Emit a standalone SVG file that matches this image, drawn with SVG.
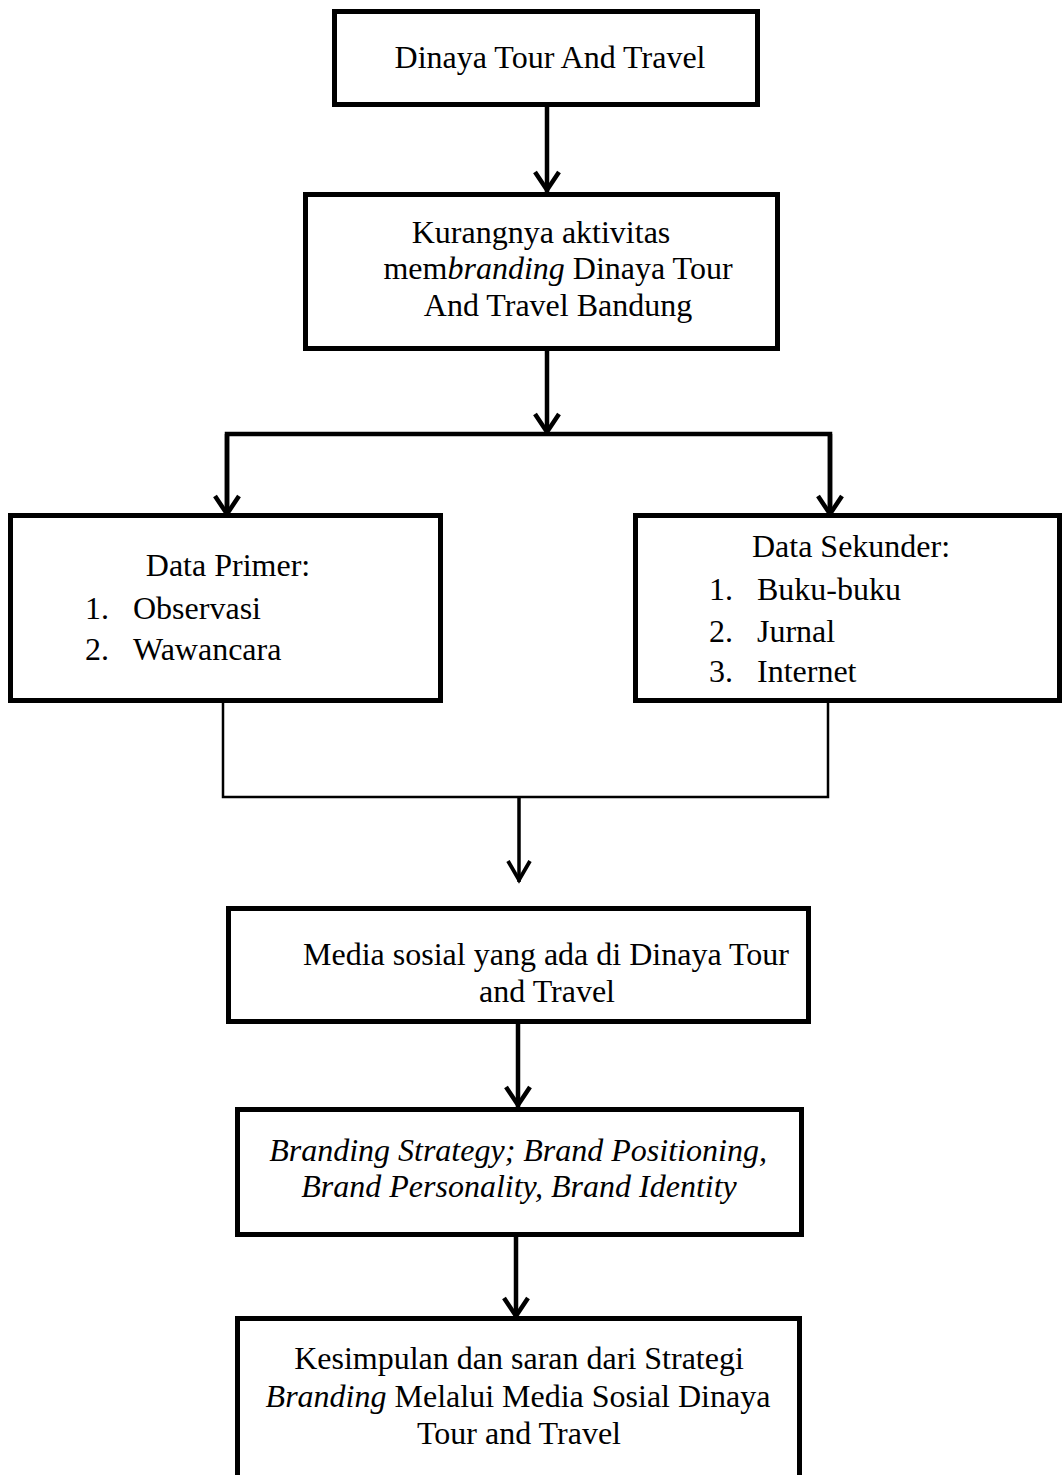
<svg xmlns="http://www.w3.org/2000/svg" width="1062" height="1475" viewBox="0 0 1062 1475">
  <style>
    .box { fill: #ffffff; stroke: #000000; stroke-width: 5; }
    .t { font-family: "Liberation Serif", "Times New Roman", serif; font-size: 32px; fill: #000000; }
    .c { text-anchor: middle; }
    .i { font-style: italic; }
    .conn { fill: none; stroke: #000000; stroke-width: 4.5; }
    .thin { fill: none; stroke: #000000; stroke-width: 2.5; }
  </style>
  <defs>
    <marker id="ah" markerUnits="userSpaceOnUse" markerWidth="40" markerHeight="40" refX="2" refY="0" orient="auto" viewBox="-25 -20 40 40" overflow="visible">
      <path d="M-18,-12 L0,0 L-18,12" fill="none" stroke="#000000" stroke-width="4.5"/>
    </marker>
    <marker id="ah-thin" markerUnits="userSpaceOnUse" markerWidth="40" markerHeight="40" refX="2" refY="0" orient="auto" viewBox="-25 -20 40 40" overflow="visible">
      <path d="M-19,-11 L0,0 L-19,11" fill="none" stroke="#000000" stroke-width="3.8"/>
    </marker>
  </defs>
  <rect width="1062" height="1475" fill="#ffffff"/>

  <g id="connectors">
    <line class="conn" x1="547" y1="107" x2="547" y2="192" marker-end="url(#ah)"/>
    <line class="conn" x1="547" y1="351" x2="547" y2="434" marker-end="url(#ah)"/>
    <polyline class="conn" points="227,516 227,434 830,434 830,516"/>
    <line class="conn" x1="227" y1="434" x2="227" y2="516" marker-end="url(#ah)"/>
    <line class="conn" x1="830" y1="434" x2="830" y2="516" marker-end="url(#ah)"/>
    <polyline class="thin" points="223,703 223,797 828,797 828,703"/>
    <line x1="519" y1="797" x2="519" y2="882" stroke="#000000" stroke-width="3.5" marker-end="url(#ah-thin)"/>
    <line class="conn" x1="518" y1="1024" x2="518" y2="1107" marker-end="url(#ah)"/>
    <line class="conn" x1="516" y1="1237" x2="516" y2="1318" marker-end="url(#ah)"/>
  </g>

  <g id="node-dinaya">
    <rect class="box" x="334.5" y="11.5" width="423" height="93"/>
    <text class="t c" x="550" y="68">Dinaya Tour And Travel</text>
  </g>

  <g id="node-kurangnya">
    <rect class="box" x="305.5" y="194.5" width="472" height="154"/>
    <text class="t c" x="541" y="243">Kurangnya aktivitas</text>
    <text class="t c" x="558" y="279">mem<tspan class="i">branding</tspan> Dinaya Tour</text>
    <text class="t c" x="558" y="316">And Travel Bandung</text>
  </g>

  <g id="node-primer">
    <rect class="box" x="10.5" y="515.5" width="430" height="185"/>
    <text class="t c" x="228" y="576">Data Primer:</text>
    <text class="t" x="85" y="619">1.</text>
    <text class="t" x="133" y="619">Observasi</text>
    <text class="t" x="85" y="660">2.</text>
    <text class="t" x="133" y="660">Wawancara</text>
  </g>

  <g id="node-sekunder">
    <rect class="box" x="635.5" y="515.5" width="424" height="185"/>
    <text class="t c" x="851" y="557">Data Sekunder:</text>
    <text class="t" x="709" y="600">1.</text>
    <text class="t" x="757" y="600">Buku-buku</text>
    <text class="t" x="709" y="642">2.</text>
    <text class="t" x="757" y="642">Jurnal</text>
    <text class="t" x="709" y="682">3.</text>
    <text class="t" x="757" y="682">Internet</text>
  </g>

  <g id="node-media">
    <rect class="box" x="228.5" y="908.5" width="580" height="113"/>
    <text class="t c" x="546" y="965">Media sosial yang ada di Dinaya Tour</text>
    <text class="t c" x="547" y="1002">and Travel</text>
  </g>

  <g id="node-strategy">
    <rect class="box" x="237.5" y="1109.5" width="564" height="125"/>
    <text class="t c i" x="518" y="1161">Branding Strategy; Brand Positioning,</text>
    <text class="t c i" x="519" y="1197">Brand Personality, Brand Identity</text>
  </g>

  <g id="node-kesimpulan">
    <rect class="box" x="237.5" y="1318.5" width="562" height="200"/>
    <text class="t c" x="519" y="1369">Kesimpulan dan saran dari Strategi</text>
    <text class="t c" x="518" y="1407"><tspan class="i">Branding</tspan> Melalui Media Sosial Dinaya</text>
    <text class="t c" x="519" y="1444">Tour and Travel</text>
  </g>
</svg>
